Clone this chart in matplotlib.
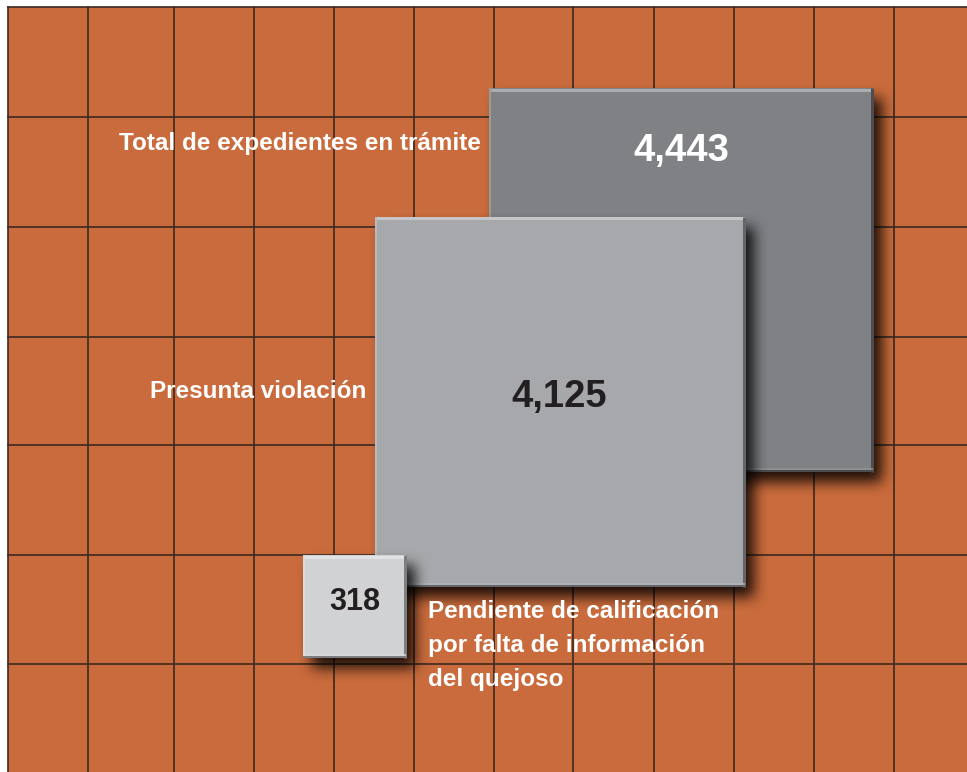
import numpy as np
import matplotlib
matplotlib.use("Agg")
import matplotlib.pyplot as plt
from matplotlib.patches import Rectangle

# data
labels = ["Total de expedientes en trámite",
          "Presunta violación",
          "Pendiente de calificación\npor falta de información\ndel quejoso"]
values = [4443, 4125, 318]

# layout (pixel coords, y down)
corners = [(873, 472), (745, 587), (406, 658)]   # bottom-right corner of each square
box_colors = ["#808185", "#A7A8AB", "#D1D2D4"]
num_colors = ["white", "#231F20", "#231F20"]
num_sizes = [27.5, 27.5, 22]
num_pos = [(681, 161), (559, 407), (355, 610)]
label_pos = [(481, 150, "right"), (366, 398, "right"), (428, 618, "left")]
vlines = [8, 88, 174, 254, 334, 414, 494, 573, 654, 734, 814, 894]
hlines = [7, 117, 227, 337, 445, 555, 664]

plt.rcParams["font.family"] = ["Liberation Sans", "DejaVu Sans"]

W, H = 967, 772
fig = plt.figure(figsize=(W / 100, H / 100), dpi=100)
ax = fig.add_axes([0, 0, 1, 1])
ax.set_xlim(0, W)
ax.set_ylim(H, 0)
ax.axis("off")

orange = "#C96B3C"
ax.add_patch(Rectangle((8, 7), W - 8, H - 7, facecolor=orange, edgecolor="none", zorder=0))
for x in vlines:
    ax.plot([x, x], [7, H], color="#3A2A22", lw=1.2, zorder=1)
for y in hlines:
    ax.plot([8, W], [y, y], color="#3A2A22", lw=1.2, zorder=1)

k = 384 / np.sqrt(max(values))
px = 0.72  # one pixel in points


def lighten(c, f):
    c = np.array(matplotlib.colors.to_rgb(c))
    return tuple(c + (1 - c) * f)


def darken(c, f):
    c = np.array(matplotlib.colors.to_rgb(c))
    return tuple(c * (1 - f))


def blur(a, r):
    # three box passes ~ gaussian
    for _ in range(3):
        p = np.pad(a, [(r + 1, r), (0, 0)])
        c = np.cumsum(p, axis=0)
        a = (c[2 * r + 1:] - c[:-2 * r - 1]) / (2 * r + 1)
        p = np.pad(a, [(0, 0), (r + 1, r)])
        c = np.cumsum(p, axis=1)
        a = (c[:, 2 * r + 1:] - c[:, :-2 * r - 1]) / (2 * r + 1)
    return a


for i, (v, (rx, by)) in enumerate(zip(values, corners)):
    s = k * np.sqrt(v)
    x0, y0 = rx - s, by - s
    z = 2 + i * 2
    # soft drop shadow
    m = np.zeros((H, W))
    m[int(round(y0 + 10)):int(round(by + 10)), int(round(x0 + 9)):int(round(rx + 9))] = 1.0
    m = blur(m, 6)
    shadow = np.zeros((H, W, 4))
    shadow[..., 3] = np.clip(m * 0.85, 0, 1)
    ax.imshow(shadow, extent=(0, W, H, 0), zorder=z, interpolation="bilinear", aspect="auto")
    c = box_colors[i]
    ax.add_patch(Rectangle((x0, y0), s, s, facecolor=c, edgecolor="none", zorder=z + 1))
    # bevel edges
    ax.plot([x0, rx], [y0 + 1.5, y0 + 1.5], color=lighten(c, 0.35), lw=3 * px, zorder=z + 1,
            solid_capstyle="butt")
    ax.plot([x0 + 1, x0 + 1], [y0, by], color=lighten(c, 0.2), lw=2 * px, zorder=z + 1,
            solid_capstyle="butt")
    ax.plot([rx - 1.5, rx - 1.5], [y0, by], color=darken(c, 0.4), lw=3 * px, zorder=z + 1,
            solid_capstyle="butt")
    ax.plot([x0, rx], [by - 3, by - 3], color=lighten(c, 0.15), lw=1.5 * px, zorder=z + 1,
            solid_capstyle="butt")
    ax.plot([x0, rx], [by - 1, by - 1], color=darken(c, 0.4), lw=2 * px, zorder=z + 1,
            solid_capstyle="butt")
    nx, ny = num_pos[i]
    ax.text(nx, ny, f"{v:,}", color=num_colors[i], fontsize=num_sizes[i], fontweight="bold",
            ha="center", va="baseline", zorder=20)
    lx, ly, ha = label_pos[i]
    for j, line in enumerate(labels[i].split("\n")):
        ax.text(lx, ly + j * 34, line, color="white", fontsize=17.5, fontweight="bold",
                ha=ha, va="baseline", zorder=20)

ax.set_xlim(0, W)
ax.set_ylim(H, 0)
fig.savefig("out.png", dpi=100, facecolor="white")
